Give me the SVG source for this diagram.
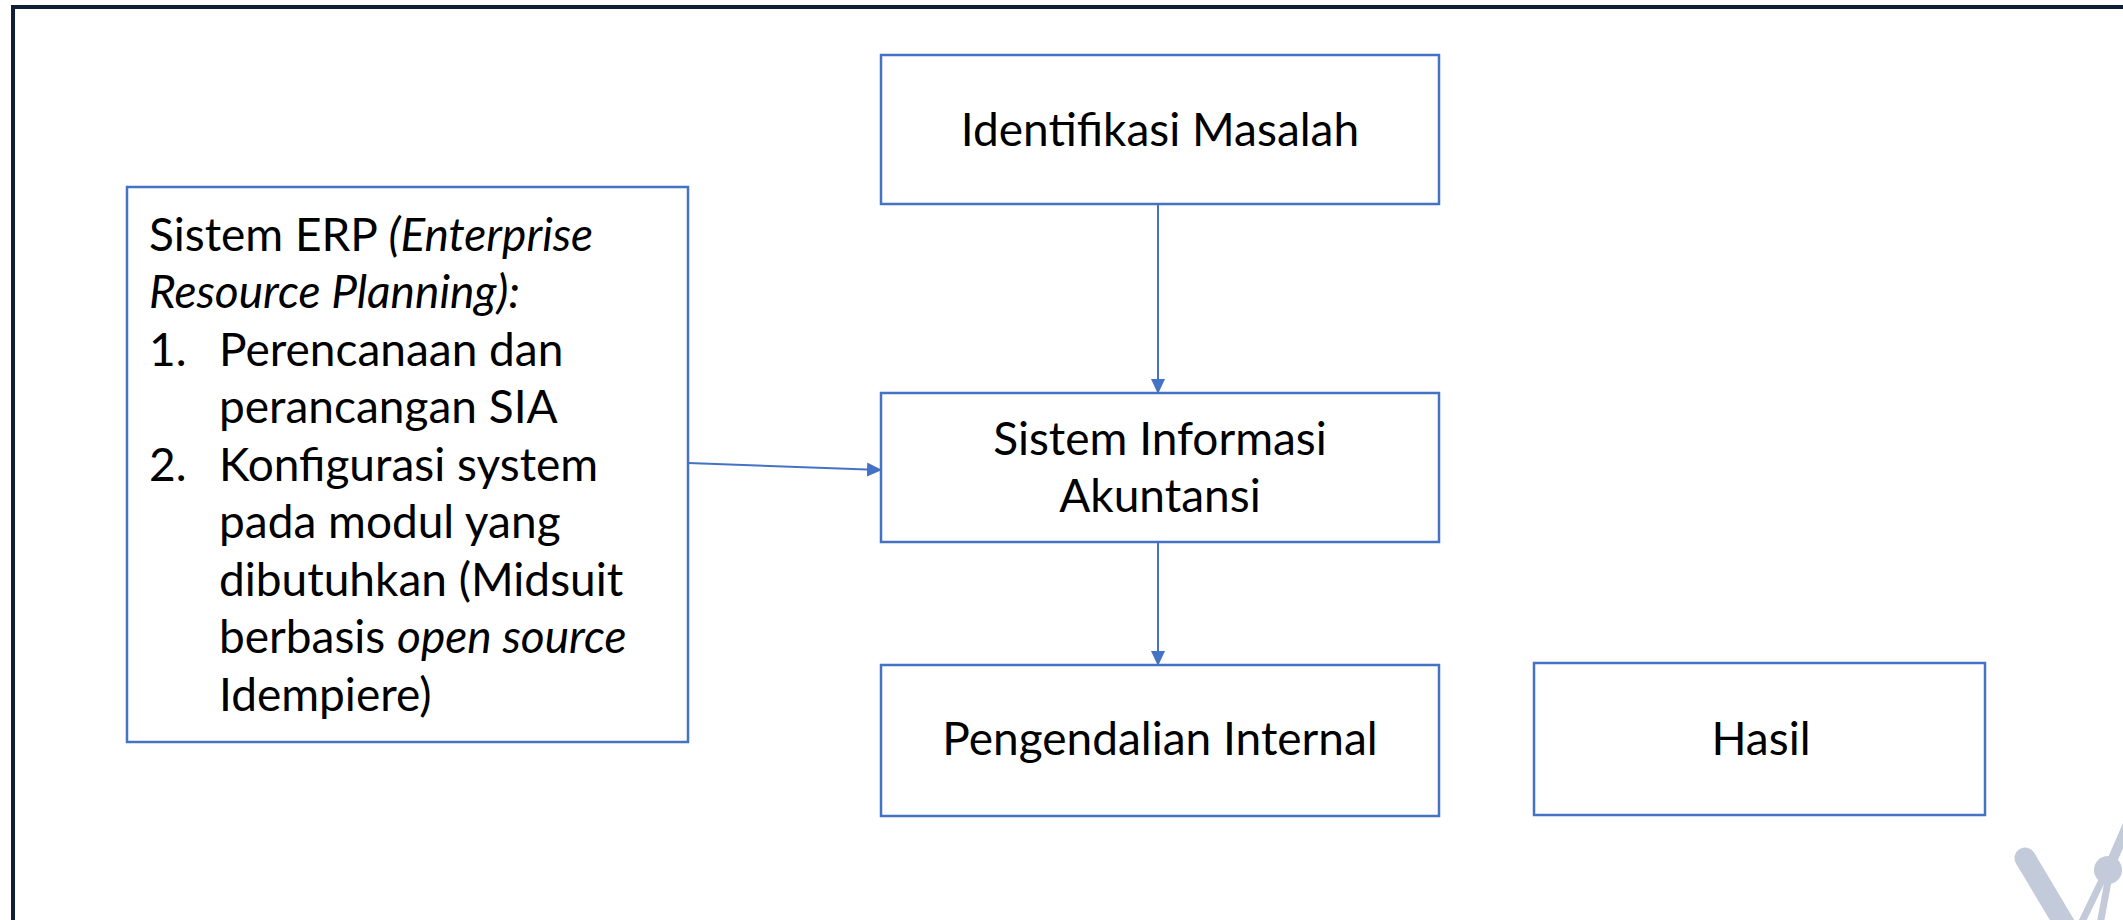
<svg xmlns="http://www.w3.org/2000/svg" width="2123" height="920" viewBox="0 0 2123 920">
<style>
.box{fill:#ffffff;stroke:#4472C4;stroke-width:2.5}
.conn{stroke:#4472C4;stroke-width:2;fill:none}
.t{font-family:Lato,"Open Sans","Liberation Sans",sans-serif;font-size:46px;fill:#000000}
.c{text-anchor:middle}
.frame{stroke:#0f1f3a;stroke-width:4;fill:none}
.wm{fill:#c3cad9;stroke:none}
.wml{stroke:#c3cad9;fill:none;stroke-linecap:round}
</style>
<defs>
<marker id="ah" markerWidth="15" markerHeight="14" refX="14" refY="7" orient="auto" markerUnits="userSpaceOnUse">
<path d="M0,0 L15,7 L0,14 Z" fill="#4472C4"/>
</marker>
</defs>
<rect width="2123" height="920" fill="#ffffff"/>
<path class="frame" d="M13,920 L13,7 L2123,7"/>
<g id="watermark">
<path class="wml" d="M2025,858 L2068,930" stroke-width="21"/>
<path class="wml" d="M2108,870 L2132,815" stroke-width="10"/>
<path class="wml" d="M2104,876 L2078,930" stroke-width="7"/>
<path class="wml" d="M2109,876 L2099,930" stroke-width="7"/>
<circle class="wm" cx="2108" cy="870" r="14"/>
</g>
<g id="connectors">
<line class="conn" x1="1158" y1="204" x2="1158" y2="393" marker-end="url(#ah)"/>
<line class="conn" x1="1158" y1="542" x2="1158" y2="665" marker-end="url(#ah)"/>
<line class="conn" x1="688" y1="463" x2="881" y2="470" marker-end="url(#ah)"/>
</g>
<g id="node-erp">
<rect class="box" x="127" y="187" width="561" height="555"/>
<text class="t" x="149" y="251">Sistem ERP <tspan font-style="italic">(Enterprise</tspan></text>
<text class="t" x="149" y="308" font-style="italic">Resource Planning):</text>
<text class="t" x="149" y="366">1.</text>
<text class="t" x="219" y="366">Perencanaan dan</text>
<text class="t" x="219" y="423">perancangan SIA</text>
<text class="t" x="149" y="481">2.</text>
<text class="t" x="219" y="481">Konfigurasi system</text>
<text class="t" x="219" y="538">pada modul yang</text>
<text class="t" x="219" y="596">dibutuhkan (Midsuit</text>
<text class="t" x="219" y="653">berbasis <tspan font-style="italic">open source</tspan></text>
<text class="t" x="219" y="711">Idempiere)</text>
</g>
<g id="node-identifikasi">
<rect class="box" x="881" y="55" width="558" height="149"/>
<text class="t c" x="1160" y="146" font-size="45">Identifikasi Masalah</text>
</g>
<g id="node-sia">
<rect class="box" x="881" y="393" width="558" height="149"/>
<text class="t c" x="1160" y="455">Sistem Informasi</text>
<text class="t c" x="1160" y="512">Akuntansi</text>
</g>
<g id="node-pengendalian">
<rect class="box" x="881" y="665" width="558" height="151"/>
<text class="t c" x="1160" y="755">Pengendalian Internal</text>
</g>
<g id="node-hasil">
<rect class="box" x="1534" y="663" width="451" height="152"/>
<text class="t c" x="1761" y="755">Hasil</text>
</g>
</svg>
